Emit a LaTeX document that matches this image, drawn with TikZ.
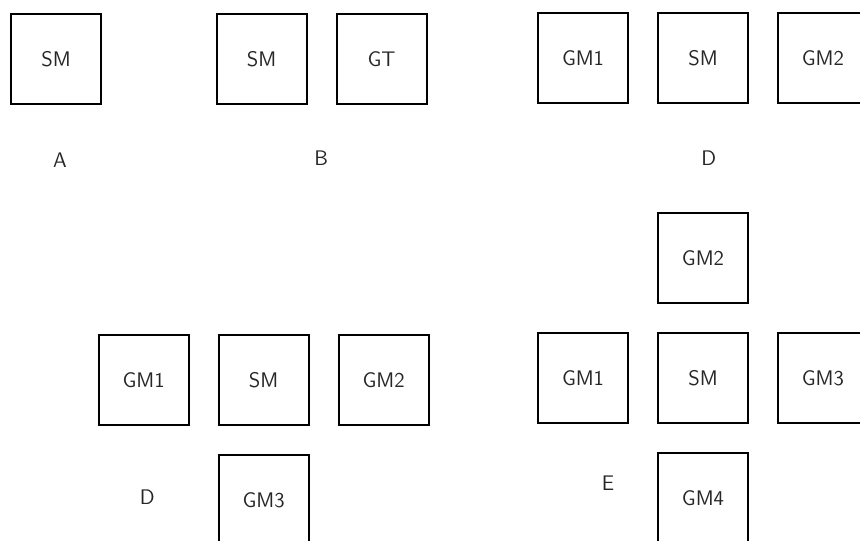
\documentclass[tikz,border=0pt]{standalone}
\usepackage{tikz}
\usetikzlibrary{positioning}

\begin{document}
\begin{tikzpicture}[
    node distance=7mm and 7mm,
    box/.style={rectangle, draw, line width=1.4pt, minimum width=22.5mm, minimum height=22.5mm,
                inner sep=0pt, font=\sffamily\fontsize{15}{18}\selectfont, text=black!85},
    lbl/.style={font=\sffamily\fontsize{15}{18}\selectfont, text=black!85},
  ]
    \useasboundingbox (0,0) rectangle (21.5,-13.5);
    \clip (0,0) rectangle (21.5,-13.5);

    \node[box] (smA) at (1.4,-1.48) {SM};
    \node[lbl] (labA) at (1.5,-4.0) {A};

    \node[box] (smB) at (6.54,-1.48) {SM};
    \node[box, right=of smB] (gtB) {GT};
    \node[lbl] (labB) at (8.03,-3.95) {B};

    \node[box] (smD) at (17.575,-1.46) {SM};
    \node[box, left=of smD] (gmDa) {GM1};
    \node[box, right=of smD] (gmDb) {GM2};
    \node[lbl] (labD) at (17.72,-3.95) {D};

    \node[box] (smT) at (6.59,-9.5) {SM};
    \node[box, left=of smT] (gmTa) {GM1};
    \node[box, right=of smT] (gmTb) {GM2};
    \node[box, below=of smT] (gmTc) {GM3};
    \node[lbl] (labT) at (3.68,-12.43) {D};

    \node[box] (smE) at (17.575,-9.46) {SM};
    \node[box, left=of smE] (gmEa) {GM1};
    \node[box, above=of smE] (gmEb) {GM2};
    \node[box, right=of smE] (gmEc) {GM3};
    \node[box, below=of smE] (gmEd) {GM4};
    \node[lbl] (labE) at (15.2,-12.08) {E};
  \end{tikzpicture}
\end{document}
